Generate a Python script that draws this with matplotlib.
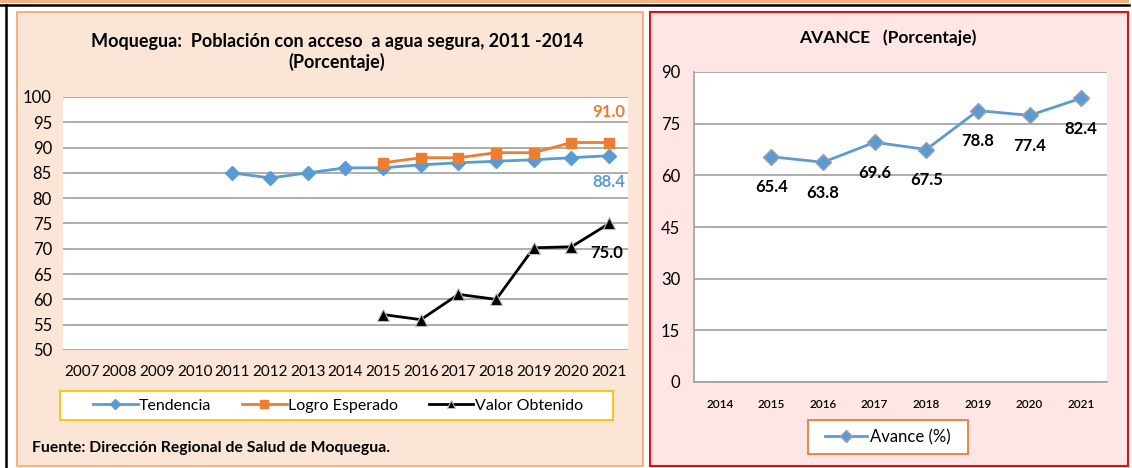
import matplotlib
matplotlib.use("Agg")
import matplotlib.pyplot as plt
import matplotlib.patches as patches

plt.rcParams['font.family'] = ['Lato', 'DejaVu Sans']

# datos
anios_izq = ["2007", "2008", "2009", "2010", "2011", "2012", "2013", "2014",
             "2015", "2016", "2017", "2018", "2019", "2020", "2021"]
tendencia_anios = ["2011", "2012", "2013", "2014", "2015", "2016", "2017", "2018", "2019", "2020", "2021"]
tendencia = [85, 84, 85, 86, 86, 86.6, 87, 87.3, 87.6, 88.0, 88.4]
logro_anios = ["2015", "2016", "2017", "2018", "2019", "2020", "2021"]
logro = [87, 88, 88, 89, 89, 91, 91]
valor_anios = ["2015", "2016", "2017", "2018", "2019", "2020", "2021"]
valor = [57, 56, 61, 60, 70.2, 70.4, 75.0]

anios_der = ["2014", "2015", "2016", "2017", "2018", "2019", "2020", "2021"]
avance_anios = ["2015", "2016", "2017", "2018", "2019", "2020", "2021"]
avance = [65.4, 63.8, 69.6, 67.5, 78.8, 77.4, 82.4]

AZUL = '#5B9BD5'
NARANJA = '#ED7D31'
W, H = 1132, 468

fig = plt.figure(figsize=(W / 100, H / 100), dpi=100)
fig.patch.set_facecolor('white')


def caja(x0, y0, x1, y1):
    # pixeles -> fraccion de figura
    return [x0 / W, 1 - y1 / H, (x1 - x0) / W, (y1 - y0) / H]


def rect(x0, y0, x1, y1, fc, ec, lw=1.0, z=-1):
    r = caja(x0, y0, x1, y1)
    fig.patches.append(patches.Rectangle((r[0], r[1]), r[2], r[3], transform=fig.transFigure,
                                         facecolor=fc, edgecolor=ec, linewidth=lw, zorder=z))


# marco general
rect(0, 0, 1129, 3, '#F4B183', 'none')
fig.add_artist(plt.Line2D([0, 1129 / W], [1 - 4.5 / H, 1 - 4.5 / H], color='black', lw=1.8,
                          transform=fig.transFigure))
fig.add_artist(plt.Line2D([6 / W, 6 / W], [0, 1 - 4.5 / H], color='black', lw=1.8, transform=fig.transFigure))

# paneles
rect(17, 12, 643, 466, '#FBE5D6', '#F4A46E', lw=1.2, z=-2)
rect(650, 12, 1128, 466, '#FFE6E6', '#E01010', lw=1.5, z=-2)

# ---- grafico izquierdo ----
ax1 = fig.add_axes(caja(63, 97, 628, 350))
ax1.set_facecolor('white')
x_izq = {a: i for i, a in enumerate(anios_izq)}
ax1.plot([x_izq[a] for a in tendencia_anios], tendencia, color=AZUL, lw=2, marker='D',
         ms=7, mec=AZUL, label='Tendencia', zorder=3)
ax1.plot([x_izq[a] for a in logro_anios], logro, color=NARANJA, lw=2, marker='s',
         ms=7, mec=NARANJA, label='Logro Esperado', zorder=3)
ax1.plot([x_izq[a] for a in valor_anios], valor, color='black', lw=2, marker='^',
         ms=8, mec='#BBBBBB', mew=0.8, label='Valor Obtenido', zorder=3)
ax1.set_xlim(-0.5, len(anios_izq) - 0.5)
ax1.set_ylim(50, 100)
ax1.set_yticks(range(50, 101, 5))
ax1.set_xticks(range(len(anios_izq)))
ax1.set_xticklabels(anios_izq)
ax1.grid(axis='y', color='#A0A0A0', lw=1.2)
ax1.set_axisbelow(True)
for s in ax1.spines.values():
    s.set_visible(False)
ax1.tick_params(length=0, labelsize=12, pad=8)
ax1.tick_params(axis='x', labelsize=11, pad=11)

xu = x_izq["2021"]
ax1.annotate(f"{logro[-1]:.1f}", (xu, logro[-1]), xytext=(0, 22), textcoords='offset points',
             ha='center', va='center', color=NARANJA, fontsize=12, fontweight='bold')
ax1.annotate(f"{tendencia[-1]:.1f}", (xu, tendencia[-1]), xytext=(0, -19), textcoords='offset points',
             ha='center', va='center', color=AZUL, fontsize=12, fontweight='bold')
ax1.annotate(f"{valor[-1]:.1f}", (xu, valor[-1]), xytext=(-2, -21), textcoords='offset points',
             ha='center', va='center', color='black', fontsize=12, fontweight='bold')

fig.text(337 / W, 1 - 42 / H, "Moquegua:  Población con acceso  a agua segura, 2011 -2014",
         ha='center', va='center', fontsize=13, fontweight='bold')
fig.text(337 / W, 1 - 62 / H, "(Porcentaje)", ha='center', va='center', fontsize=13, fontweight='bold')

rect(60, 391, 613, 420, 'white', '#FFC000', lw=1.3, z=1)
h, l = ax1.get_legend_handles_labels()
fig.legend(h, l, loc='center', bbox_to_anchor=(338 / W, 1 - 405.5 / H), ncol=3, frameon=False,
           fontsize=11.5, handlelength=2.8, handletextpad=0.1, columnspacing=1.9, markerscale=0.75)

fig.text(32 / W, 1 - 448 / H, "Fuente: Dirección Regional de Salud de Moquegua.",
         ha='left', va='center', fontsize=11.3, fontweight='bold')

# ---- grafico derecho ----
ax2 = fig.add_axes(caja(694, 72, 1107, 382))
ax2.set_facecolor('white')
x_der = {a: i for i, a in enumerate(anios_der)}
ax2.plot([x_der[a] for a in avance_anios], avance, color=AZUL, lw=2, marker='D', ms=8,
         mec='#A0A0A0', mew=1, label='Avance (%)', zorder=3)
ax2.set_xlim(-0.5, len(anios_der) - 0.5)
ax2.set_ylim(0, 90)
ax2.set_yticks(range(0, 91, 15))
ax2.set_xticks(range(len(anios_der)))
ax2.set_xticklabels(anios_der, fontweight='semibold')
ax2.grid(axis='y', color='#A0A0A0', lw=1.2)
ax2.set_axisbelow(True)
for s in ['top', 'right']:
    ax2.spines[s].set_visible(False)
for s in ['left', 'bottom']:
    ax2.spines[s].set_color('#A0A0A0')
    ax2.spines[s].set_linewidth(1.2)
ax2.tick_params(length=0, labelsize=12, pad=10)
ax2.tick_params(axis='x', labelsize=8.5, pad=12)
for a, v in zip(avance_anios, avance):
    ax2.annotate(f"{v:.1f}", (x_der[a], v), xytext=(0, -22), textcoords='offset points',
                 ha='center', va='center', fontsize=12, fontweight='bold')

fig.text(888 / W, 1 - 38 / H, "AVANCE   (Porcentaje)", ha='center', va='center',
         fontsize=12.5, fontweight='bold')

rect(808, 420, 968, 454, 'white', NARANJA, lw=1.3, z=1)
h2, l2 = ax2.get_legend_handles_labels()
fig.legend(h2, l2, loc='center', bbox_to_anchor=(888 / W, 1 - 437 / H), frameon=False,
           fontsize=12, handlelength=2.5, handletextpad=0.2, markerscale=0.8)

fig.savefig('out.png', dpi=100)
